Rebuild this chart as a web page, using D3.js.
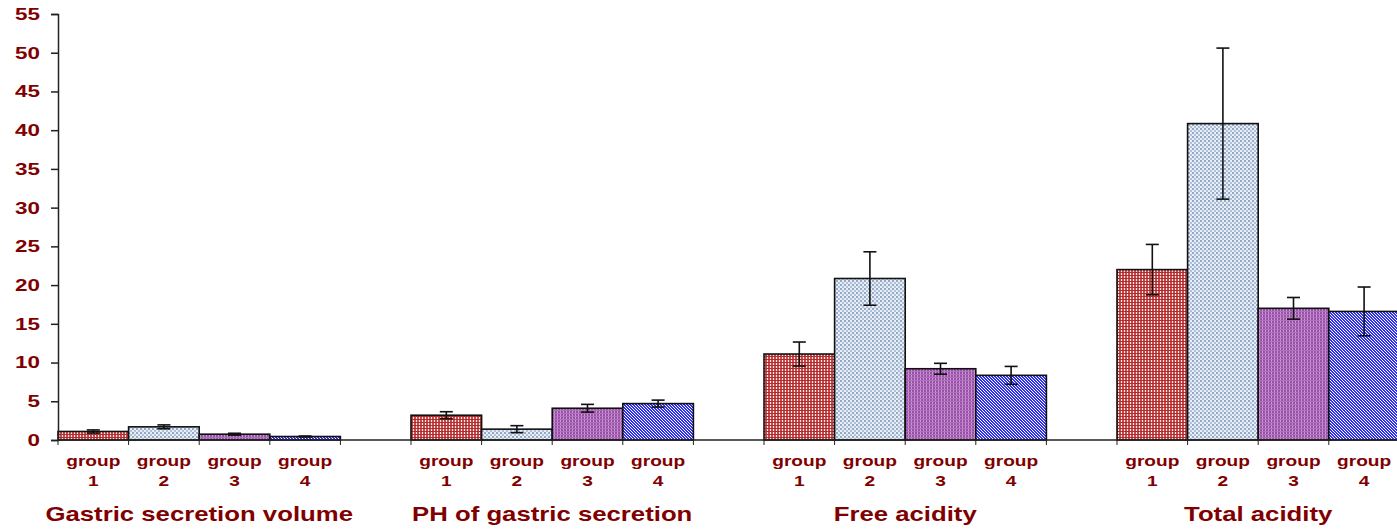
<!DOCTYPE html>
<html>
<head>
<meta charset="utf-8">
<script src="https://cdn.jsdelivr.net/npm/d3@7"></script>
<style>
body { margin: 0; background: #fff; }
text { font-family: Arial, "Liberation Sans", sans-serif; font-weight: bold; fill: #800000; }
</style>
</head>
<body>
<div class="chart"></div>
<script>
// data
var categories = ["Gastric secretion volume", "PH of gastric secretion", "Free acidity", "Total acidity"];
var groups = ["group 1", "group 2", "group 3", "group 4"];
var group1 = [1.1, 3.2, 11.1, 22.0];
var group2 = [1.7, 1.4, 20.85, 40.85];
var group3 = [0.75, 4.1, 9.2, 17.0];
var group4 = [0.45, 4.7, 8.35, 16.6];
var err1 = [0.2, 0.45, 1.55, 3.25];
var err2 = [0.25, 0.45, 3.45, 9.75];
var err3 = [0.12, 0.5, 0.7, 1.4];
var err4 = [0.06, 0.45, 1.15, 3.15];
var yTicks = [0, 5, 10, 15, 20, 25, 30, 35, 40, 45, 50, 55];

var seriesVals = [group1, group2, group3, group4];
var seriesErr = [err1, err2, err3, err4];

var width = 1397, height = 529;
var margin = {top: 14, left: 58, bottom: 89};
var catStep = 353;
var stretch = 1.32; // the source text is wide

var svg = d3.select('.chart')
	.append('svg')
	.attr('width', width)
	.attr('height', height);

//fill patterns
var defs = svg.append('defs');

var p1 = defs.append('pattern').attr('id', 'pat1').attr('width', 3).attr('height', 3).attr('patternUnits', 'userSpaceOnUse');
p1.append('rect').attr('width', 3).attr('height', 3).attr('fill', '#cc4848');
p1.append('rect').attr('x', 2).attr('width', 1).attr('height', 3).attr('fill', '#fbeaea');
p1.append('rect').attr('y', 2).attr('width', 3).attr('height', 1).attr('fill', '#a83030');

var p2 = defs.append('pattern').attr('id', 'pat2').attr('width', 4).attr('height', 4).attr('patternUnits', 'userSpaceOnUse');
p2.append('rect').attr('width', 4).attr('height', 4).attr('fill', '#e8eef6');
p2.append('rect').attr('width', 2).attr('height', 2).attr('fill', '#94a9c6');
p2.append('rect').attr('x', 2).attr('y', 2).attr('width', 2).attr('height', 2).attr('fill', '#b0c0d8');

var p3 = defs.append('pattern').attr('id', 'pat3').attr('width', 3).attr('height', 3).attr('patternUnits', 'userSpaceOnUse');
p3.append('rect').attr('width', 3).attr('height', 3).attr('fill', '#9850a8');
p3.append('rect').attr('x', 2).attr('width', 1).attr('height', 3).attr('fill', '#c898d0');
p3.append('rect').attr('y', 2).attr('width', 3).attr('height', 1).attr('fill', '#b070bc');

var p4 = defs.append('pattern').attr('id', 'pat4').attr('width', 3).attr('height', 3).attr('patternUnits', 'userSpaceOnUse');
p4.append('rect').attr('width', 3).attr('height', 3).attr('fill', '#ffffff');
[[0, 0], [1, 1], [2, 2], [1, 0], [2, 1], [0, 2]].forEach(function (c) {
	p4.append('rect').attr('x', c[0]).attr('y', c[1]).attr('width', 1).attr('height', 1).attr('fill', '#2f2ff0');
});

var patterns = ['url(#pat1)', 'url(#pat2)', 'url(#pat3)', 'url(#pat4)'];

//scales
var yScale = d3.scaleLinear()
	.domain([0, 55])
	.range([height - margin.bottom, margin.top]);

var xScale = d3.scaleBand()
	.domain(categories)
	.range([margin.left, margin.left + catStep * categories.length])
	.padding(0);

var xInner = d3.scaleBand()
	.domain(groups)
	.range([0, xScale.bandwidth() * 0.8])
	.padding(0);

var y0 = yScale(0);

//bars
var rows = [];
categories.forEach(function (c, ci) {
	groups.forEach(function (g, gi) {
		rows.push({cat: c, group: g, gi: gi, v: seriesVals[gi][ci], e: seriesErr[gi][ci]});
	});
});

svg.append('g').selectAll('rect')
	.data(rows)
	.enter().append('rect')
	.attr('x', function (d) { return xScale(d.cat) + xInner(d.group); })
	.attr('y', function (d) { return yScale(d.v); })
	.attr('width', xInner.bandwidth())
	.attr('height', function (d) { return y0 - yScale(d.v); })
	.attr('fill', function (d) { return patterns[d.gi]; })
	.attr('stroke', '#111')
	.attr('stroke-width', 1.6);

//error bars
var eb = svg.append('g').attr('stroke', '#111').attr('stroke-width', 1.6);
rows.forEach(function (d) {
	var cx = xScale(d.cat) + xInner(d.group) + xInner.bandwidth() / 2;
	var top = yScale(d.v + d.e), bot = yScale(d.v - d.e);
	eb.append('line').attr('x1', cx).attr('x2', cx).attr('y1', top).attr('y2', bot);
	eb.append('line').attr('x1', cx - 6.5).attr('x2', cx + 6.5).attr('y1', top).attr('y2', top);
	eb.append('line').attr('x1', cx - 6.5).attr('x2', cx + 6.5).attr('y1', bot).attr('y2', bot);
});

//y axis
var yAxis = d3.axisLeft(yScale)
	.tickValues(yTicks)
	.tickSize(7)
	.tickSizeOuter(7)
	.tickPadding(10);

var gy = svg.append('g')
	.attr('transform', 'translate(' + margin.left + ',0)')
	.call(yAxis);
gy.selectAll('path, line').attr('stroke', '#222').attr('stroke-width', 1.5);
gy.selectAll('text')
	.attr('x', 0)
	.attr('transform', 'translate(-18,0) scale(' + stretch + ',1)')
	.style('font-size', '17px')
	.attr('fill', '#800000');

//x axis
svg.append('line')
	.attr('x1', margin.left).attr('x2', width)
	.attr('y1', y0).attr('y2', y0)
	.attr('stroke', '#222').attr('stroke-width', 1.5);

var tickXs = [];
categories.forEach(function (c) {
	groups.forEach(function (g) { tickXs.push(xScale(c) + xInner(g)); });
	tickXs.push(xScale(c) + xInner.range()[1]);
});
svg.append('g').selectAll('line')
	.data(tickXs)
	.enter().append('line')
	.attr('x1', function (d) { return d; }).attr('x2', function (d) { return d; })
	.attr('y1', y0).attr('y2', y0 + 5)
	.attr('stroke', '#222').attr('stroke-width', 1);

//group labels
rows.forEach(function (d) {
	var cx = xScale(d.cat) + xInner(d.group) + xInner.bandwidth() / 2;
	var parts = d.group.split(' ');
	var t = svg.append('text')
		.attr('transform', 'translate(' + cx + ',' + y0 + ') scale(' + stretch + ',1)')
		.attr('text-anchor', 'middle')
		.style('font-size', '14.5px');
	t.append('tspan').attr('x', 0).attr('y', 26).text(parts[0]);
	t.append('tspan').attr('x', 0).attr('y', 46).text(parts[1]);
});

//category labels
svg.append('g').selectAll('text')
	.data(categories)
	.enter().append('text')
	.attr('transform', function (d) {
		return 'translate(' + (xScale(d) + xInner.range()[1] / 2) + ',' + (y0 + 81) + ') scale(' + stretch + ',1)';
	})
	.attr('text-anchor', 'middle')
	.style('font-size', '19.5px')
	.text(function (d) { return d; });
</script>
</body>
</html>
